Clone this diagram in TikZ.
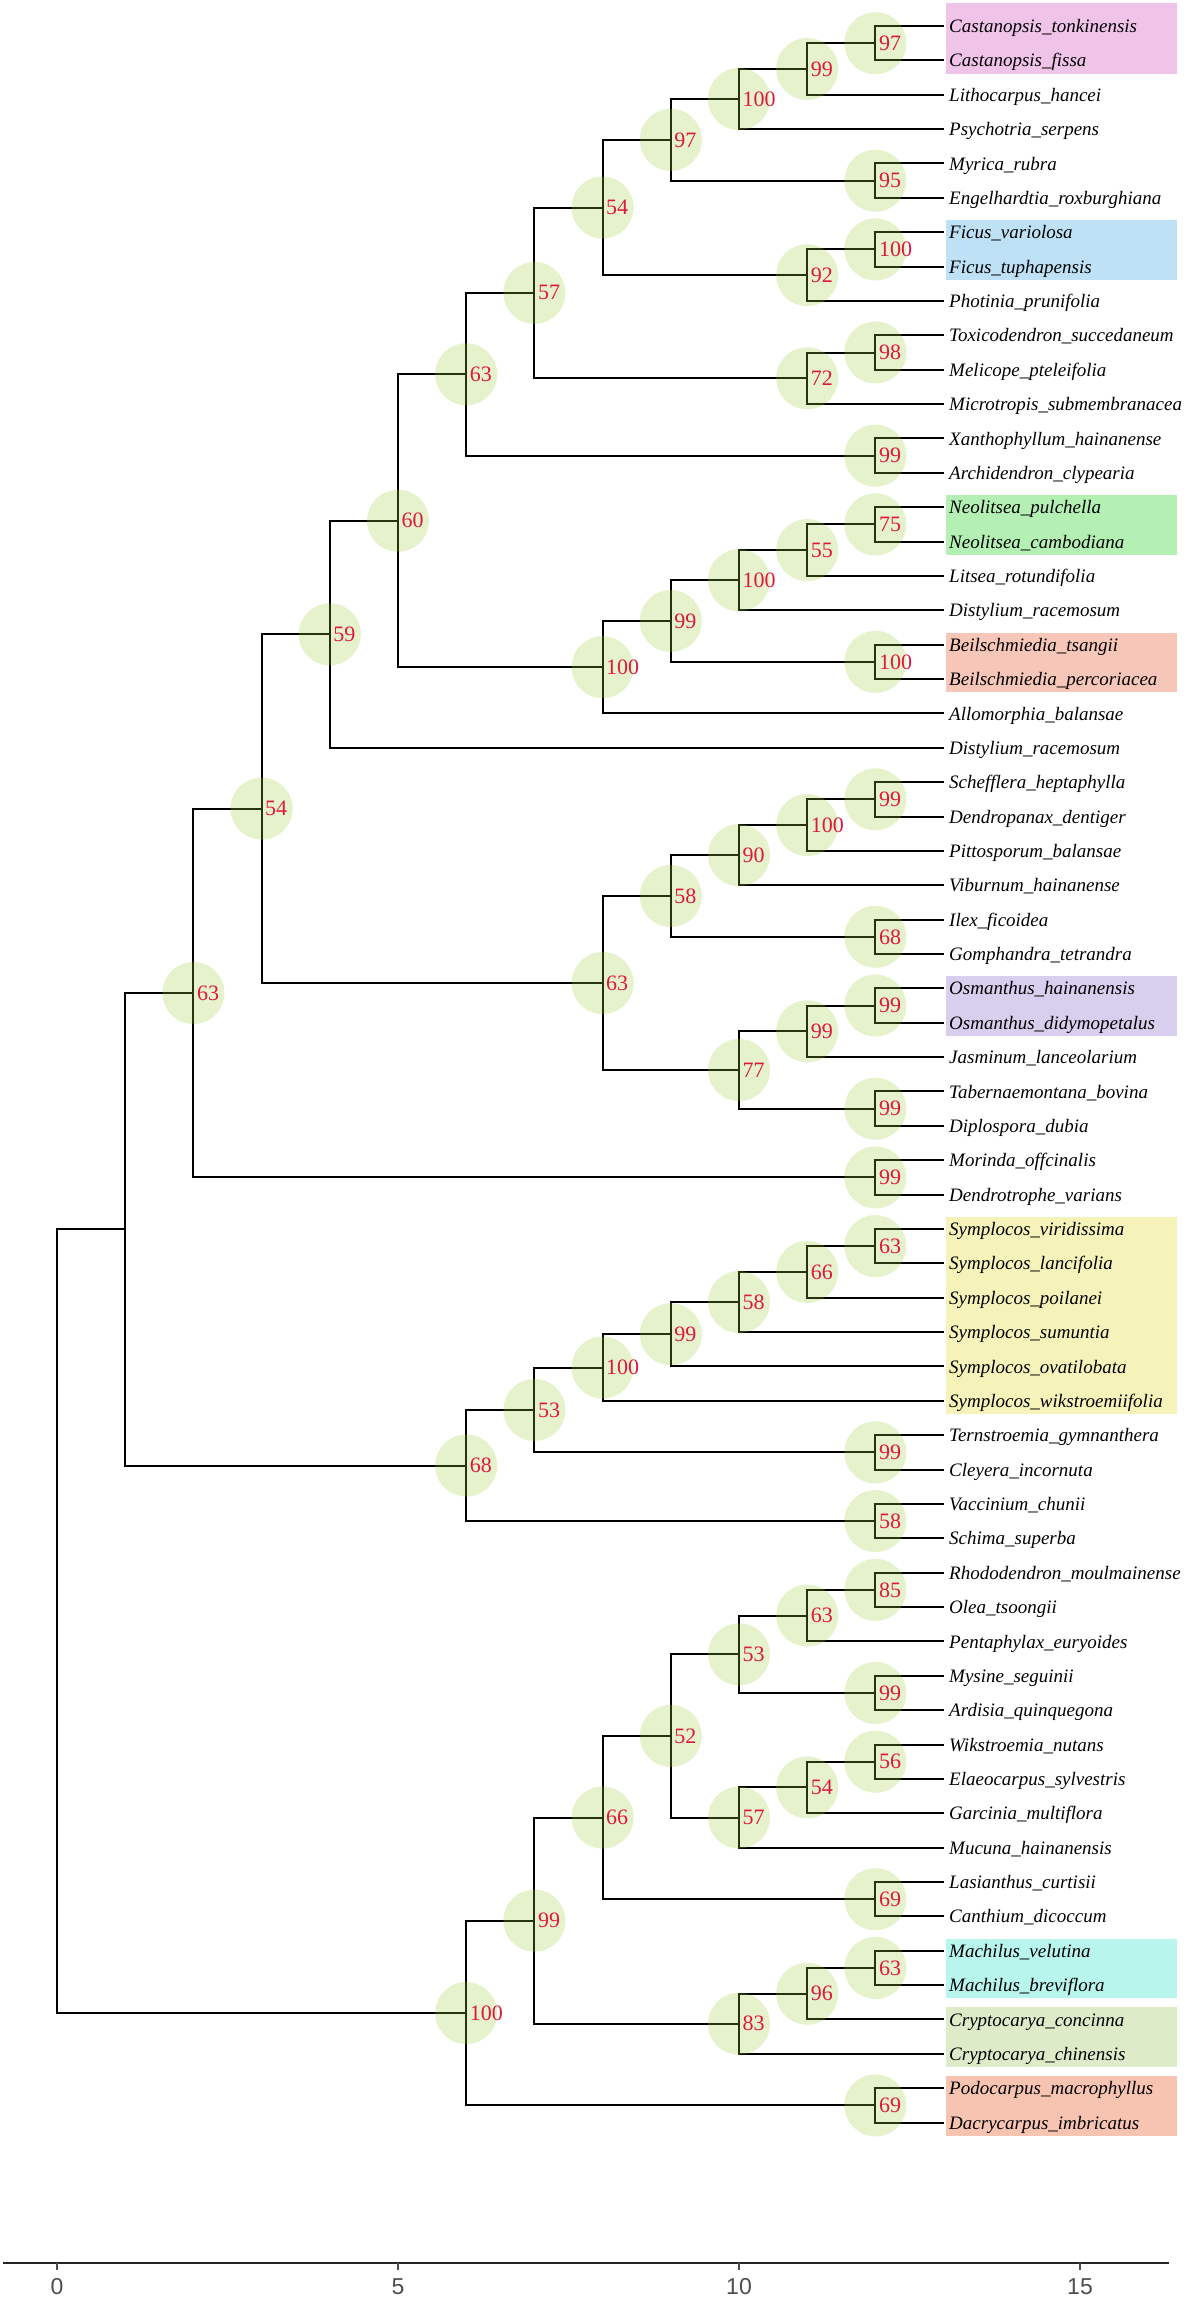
\documentclass[tikz,border=0pt]{standalone}
\usepackage{fontspec}
\setmainfont{Liberation Serif}
\newfontfamily\axisfont{Liberation Sans}
\definecolor{ygreen}{RGB}{154,205,50}
\definecolor{bsred}{RGB}{222,24,62}
\definecolor{cPink}{RGB}{240,196,232}
\definecolor{cBlue}{RGB}{190,225,245}
\definecolor{cGreen}{RGB}{180,240,180}
\definecolor{cSalmon}{RGB}{246,198,184}
\definecolor{cLav}{RGB}{216,206,238}
\definecolor{cYel}{RGB}{245,243,185}
\definecolor{cCyan}{RGB}{184,245,236}
\definecolor{cCry}{RGB}{222,235,200}
\definecolor{cPodo}{RGB}{248,196,178}
\definecolor{axgrey}{RGB}{77,77,77}
\newcommand\mkleaf[2]{\coordinate (l#1) at (13,#1);
  \node[leaf] (t#1) at ([xshift=2.6pt,yshift=-3.3pt]l#1) {#2};}
\newcommand\mkboot[2]{\node[bsc] (#1c) at (#1) {};
  \node[bsl] (#1t) at ([xshift=1.6pt]#1) {#2};}
\newcommand\hlbox[3]{\fill[#1] (13.03,#2-0.35) rectangle (16.42,#3+0.38);}
\begin{document}
\begin{tikzpicture}[
  leaf/.style={font=\fontsize{9.5pt}{11pt}\selectfont\itshape, anchor=base west, inner sep=0pt},
  bsc/.style={circle, fill=ygreen, fill opacity=0.25, draw=none, minimum size=31pt, inner sep=0pt},
  bsl/.style={text=bsred, font=\fontsize{11pt}{13pt}\selectfont, anchor=west, inner sep=0pt},
  br/.style={line width=1pt, black},
  axlab/.style={font=\axisfont\fontsize{11.5pt}{13pt}\selectfont, text=axgrey, inner sep=0pt}
]
\useasboundingbox (0,0) rectangle (593.5pt,-1150pt);
\begin{scope}[x=34.1pt, y=-17.185pt, shift={(28.5pt,-13pt)}]
% highlight boxes
\fill[cPink] (13.03,-0.67) rectangle (16.42,1.40);
\hlbox{cBlue}{6}{7}
\hlbox{cGreen}{14}{15}
\hlbox{cSalmon}{18}{19}
\hlbox{cLav}{28}{29}
\hlbox{cYel}{35}{40}
\hlbox{cCyan}{56}{57}
\hlbox{cCry}{58}{59}
\hlbox{cPodo}{60}{61}
% leaves
\mkleaf{0}{Castanopsis\_tonkinensis}
\mkleaf{1}{Castanopsis\_fissa}
\mkleaf{2}{Lithocarpus\_hancei}
\mkleaf{3}{Psychotria\_serpens}
\mkleaf{4}{Myrica\_rubra}
\mkleaf{5}{Engelhardtia\_roxburghiana}
\mkleaf{6}{Ficus\_variolosa}
\mkleaf{7}{Ficus\_tuphapensis}
\mkleaf{8}{Photinia\_prunifolia}
\mkleaf{9}{Toxicodendron\_succedaneum}
\mkleaf{10}{Melicope\_pteleifolia}
\mkleaf{11}{Microtropis\_submembranacea}
\mkleaf{12}{Xanthophyllum\_hainanense}
\mkleaf{13}{Archidendron\_clypearia}
\mkleaf{14}{Neolitsea\_pulchella}
\mkleaf{15}{Neolitsea\_cambodiana}
\mkleaf{16}{Litsea\_rotundifolia}
\mkleaf{17}{Distylium\_racemosum}
\mkleaf{18}{Beilschmiedia\_tsangii}
\mkleaf{19}{Beilschmiedia\_percoriacea}
\mkleaf{20}{Allomorphia\_balansae}
\mkleaf{21}{Distylium\_racemosum}
\mkleaf{22}{Schefflera\_heptaphylla}
\mkleaf{23}{Dendropanax\_dentiger}
\mkleaf{24}{Pittosporum\_balansae}
\mkleaf{25}{Viburnum\_hainanense}
\mkleaf{26}{Ilex\_ficoidea}
\mkleaf{27}{Gomphandra\_tetrandra}
\mkleaf{28}{Osmanthus\_hainanensis}
\mkleaf{29}{Osmanthus\_didymopetalus}
\mkleaf{30}{Jasminum\_lanceolarium}
\mkleaf{31}{Tabernaemontana\_bovina}
\mkleaf{32}{Diplospora\_dubia}
\mkleaf{33}{Morinda\_offcinalis}
\mkleaf{34}{Dendrotrophe\_varians}
\mkleaf{35}{Symplocos\_viridissima}
\mkleaf{36}{Symplocos\_lancifolia}
\mkleaf{37}{Symplocos\_poilanei}
\mkleaf{38}{Symplocos\_sumuntia}
\mkleaf{39}{Symplocos\_ovatilobata}
\mkleaf{40}{Symplocos\_wikstroemiifolia}
\mkleaf{41}{Ternstroemia\_gymnanthera}
\mkleaf{42}{Cleyera\_incornuta}
\mkleaf{43}{Vaccinium\_chunii}
\mkleaf{44}{Schima\_superba}
\mkleaf{45}{Rhododendron\_moulmainense}
\mkleaf{46}{Olea\_tsoongii}
\mkleaf{47}{Pentaphylax\_euryoides}
\mkleaf{48}{Mysine\_seguinii}
\mkleaf{49}{Ardisia\_quinquegona}
\mkleaf{50}{Wikstroemia\_nutans}
\mkleaf{51}{Elaeocarpus\_sylvestris}
\mkleaf{52}{Garcinia\_multiflora}
\mkleaf{53}{Mucuna\_hainanensis}
\mkleaf{54}{Lasianthus\_curtisii}
\mkleaf{55}{Canthium\_dicoccum}
\mkleaf{56}{Machilus\_velutina}
\mkleaf{57}{Machilus\_breviflora}
\mkleaf{58}{Cryptocarya\_concinna}
\mkleaf{59}{Cryptocarya\_chinensis}
\mkleaf{60}{Podocarpus\_macrophyllus}
\mkleaf{61}{Dacrycarpus\_imbricatus}
% internal nodes
\coordinate (a1) at (12,0.5);
\coordinate (a2) at (11,1.25);
\coordinate (a3) at (10,2.125);
\coordinate (a4) at (12,4.5);
\coordinate (a5) at (9,3.3125);
\coordinate (a6) at (12,6.5);
\coordinate (a7) at (11,7.25);
\coordinate (a8) at (8,5.28125);
\coordinate (a9) at (12,9.5);
\coordinate (a10) at (11,10.25);
\coordinate (a11) at (7,7.765625);
\coordinate (a12) at (12,12.5);
\coordinate (a13) at (6,10.1328);
\coordinate (b1) at (12,14.5);
\coordinate (b2) at (11,15.25);
\coordinate (b3) at (10,16.125);
\coordinate (b4) at (12,18.5);
\coordinate (b5) at (9,17.3125);
\coordinate (b6) at (8,18.65625);
\coordinate (b7) at (5,14.39453);
\coordinate (b8) at (4,17.69727);
\coordinate (c1) at (12,22.5);
\coordinate (c2) at (11,23.25);
\coordinate (c3) at (10,24.125);
\coordinate (c4) at (12,26.5);
\coordinate (c5) at (9,25.3125);
\coordinate (c6) at (12,28.5);
\coordinate (c7) at (11,29.25);
\coordinate (c8) at (12,31.5);
\coordinate (c9) at (10,30.375);
\coordinate (c10) at (8,27.84375);
\coordinate (c11) at (3,22.77051);
\coordinate (c12) at (12,33.5);
\coordinate (c13) at (2,28.13525);
\coordinate (d1) at (12,35.5);
\coordinate (d2) at (11,36.25);
\coordinate (d3) at (10,37.125);
\coordinate (d4) at (9,38.0625);
\coordinate (d5) at (8,39.03125);
\coordinate (d6) at (12,41.5);
\coordinate (d7) at (7,40.26563);
\coordinate (d8) at (12,43.5);
\coordinate (d9) at (6,41.88281);
\coordinate (n1) at (1,35.00903);
\coordinate (e1) at (12,45.5);
\coordinate (e2) at (11,46.25);
\coordinate (e3) at (12,48.5);
\coordinate (e4) at (10,47.375);
\coordinate (e5) at (12,50.5);
\coordinate (e6) at (11,51.25);
\coordinate (e7) at (10,52.125);
\coordinate (e8) at (9,49.75);
\coordinate (e9) at (12,54.5);
\coordinate (e10) at (8,52.125);
\coordinate (e11) at (12,56.5);
\coordinate (e12) at (11,57.25);
\coordinate (e13) at (10,58.125);
\coordinate (e14) at (7,55.125);
\coordinate (e15) at (12,60.5);
\coordinate (e16) at (6,57.8125);
\coordinate (root) at (0,46.41077);
% branches
\draw[br] (l0) -| (a1) |- (l1);
\draw[br] (a1) -| (a2) |- (l2);
\draw[br] (a2) -| (a3) |- (l3);
\draw[br] (l4) -| (a4) |- (l5);
\draw[br] (a3) -| (a5) |- (a4);
\draw[br] (l6) -| (a6) |- (l7);
\draw[br] (a6) -| (a7) |- (l8);
\draw[br] (a5) -| (a8) |- (a7);
\draw[br] (l9) -| (a9) |- (l10);
\draw[br] (a9) -| (a10) |- (l11);
\draw[br] (a8) -| (a11) |- (a10);
\draw[br] (l12) -| (a12) |- (l13);
\draw[br] (a11) -| (a13) |- (a12);
\draw[br] (l14) -| (b1) |- (l15);
\draw[br] (b1) -| (b2) |- (l16);
\draw[br] (b2) -| (b3) |- (l17);
\draw[br] (l18) -| (b4) |- (l19);
\draw[br] (b3) -| (b5) |- (b4);
\draw[br] (b5) -| (b6) |- (l20);
\draw[br] (a13) -| (b7) |- (b6);
\draw[br] (b7) -| (b8) |- (l21);
\draw[br] (l22) -| (c1) |- (l23);
\draw[br] (c1) -| (c2) |- (l24);
\draw[br] (c2) -| (c3) |- (l25);
\draw[br] (l26) -| (c4) |- (l27);
\draw[br] (c3) -| (c5) |- (c4);
\draw[br] (l28) -| (c6) |- (l29);
\draw[br] (c6) -| (c7) |- (l30);
\draw[br] (l31) -| (c8) |- (l32);
\draw[br] (c7) -| (c9) |- (c8);
\draw[br] (c5) -| (c10) |- (c9);
\draw[br] (b8) -| (c11) |- (c10);
\draw[br] (l33) -| (c12) |- (l34);
\draw[br] (c11) -| (c13) |- (c12);
\draw[br] (l35) -| (d1) |- (l36);
\draw[br] (d1) -| (d2) |- (l37);
\draw[br] (d2) -| (d3) |- (l38);
\draw[br] (d3) -| (d4) |- (l39);
\draw[br] (d4) -| (d5) |- (l40);
\draw[br] (l41) -| (d6) |- (l42);
\draw[br] (d5) -| (d7) |- (d6);
\draw[br] (l43) -| (d8) |- (l44);
\draw[br] (d7) -| (d9) |- (d8);
\draw[br] (c13) -| (n1) |- (d9);
\draw[br] (l45) -| (e1) |- (l46);
\draw[br] (e1) -| (e2) |- (l47);
\draw[br] (l48) -| (e3) |- (l49);
\draw[br] (e2) -| (e4) |- (e3);
\draw[br] (l50) -| (e5) |- (l51);
\draw[br] (e5) -| (e6) |- (l52);
\draw[br] (e6) -| (e7) |- (l53);
\draw[br] (e4) -| (e8) |- (e7);
\draw[br] (l54) -| (e9) |- (l55);
\draw[br] (e8) -| (e10) |- (e9);
\draw[br] (l56) -| (e11) |- (l57);
\draw[br] (e11) -| (e12) |- (l58);
\draw[br] (e12) -| (e13) |- (l59);
\draw[br] (e10) -| (e14) |- (e13);
\draw[br] (l60) -| (e15) |- (l61);
\draw[br] (e14) -| (e16) |- (e15);
\draw[br] (n1) -| (root) |- (e16);
% bootstrap circles and values
\mkboot{a1}{97}
\mkboot{a2}{99}
\mkboot{a3}{100}
\mkboot{a4}{95}
\mkboot{a5}{97}
\mkboot{a6}{100}
\mkboot{a7}{92}
\mkboot{a8}{54}
\mkboot{a9}{98}
\mkboot{a10}{72}
\mkboot{a11}{57}
\mkboot{a12}{99}
\mkboot{a13}{63}
\mkboot{b1}{75}
\mkboot{b2}{55}
\mkboot{b3}{100}
\mkboot{b4}{100}
\mkboot{b5}{99}
\mkboot{b6}{100}
\mkboot{b7}{60}
\mkboot{b8}{59}
\mkboot{c1}{99}
\mkboot{c2}{100}
\mkboot{c3}{90}
\mkboot{c4}{68}
\mkboot{c5}{58}
\mkboot{c6}{99}
\mkboot{c7}{99}
\mkboot{c8}{99}
\mkboot{c9}{77}
\mkboot{c10}{63}
\mkboot{c11}{54}
\mkboot{c12}{99}
\mkboot{c13}{63}
\mkboot{d1}{63}
\mkboot{d2}{66}
\mkboot{d3}{58}
\mkboot{d4}{99}
\mkboot{d5}{100}
\mkboot{d6}{99}
\mkboot{d7}{53}
\mkboot{d8}{58}
\mkboot{d9}{68}
\mkboot{e1}{85}
\mkboot{e2}{63}
\mkboot{e3}{99}
\mkboot{e4}{53}
\mkboot{e5}{56}
\mkboot{e6}{54}
\mkboot{e7}{57}
\mkboot{e8}{52}
\mkboot{e9}{69}
\mkboot{e10}{66}
\mkboot{e11}{63}
\mkboot{e12}{96}
\mkboot{e13}{83}
\mkboot{e14}{99}
\mkboot{e15}{69}
\mkboot{e16}{100}
% axis
\coordinate (axL) at (-0.79,65.09);
\coordinate (axR) at (16.30,65.09);
\draw[line width=0.8pt, black!85] (axL) -- (axR);
\foreach \v in {0,5,10,15}{
  \coordinate (tk\v) at (\v,65.09);
  \draw[line width=0.8pt, axgrey] (tk\v) -- ([yshift=-3.6pt]tk\v);
  \node[axlab] (tl\v) at (\v,65.78) {\v};
}
\end{scope}
\end{tikzpicture}
\end{document}
